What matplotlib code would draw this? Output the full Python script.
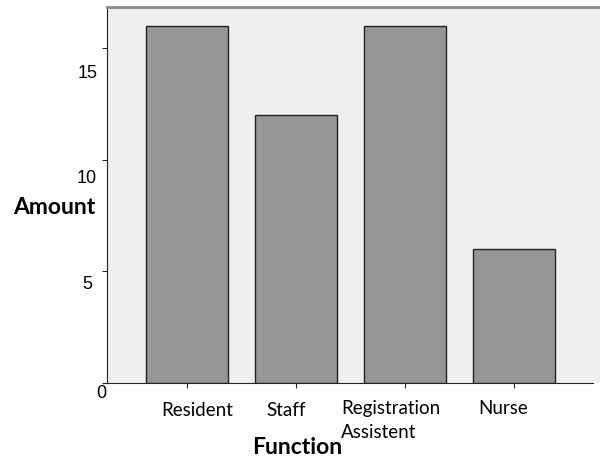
import matplotlib
matplotlib.use("Agg")
import matplotlib.pyplot as plt
from matplotlib.transforms import ScaledTranslation

categories = ["Resident", "Staff", "Registration\nAssistent", "Nurse"]
values = [16, 12, 16, 6]
yticks = [0, 5, 10, 15]
ytick_labels = ["0", "5", "10", "15"]

fig = plt.figure(figsize=(6, 4.57), dpi=100)
ax = fig.add_axes([107/600, (457-383)/457, 493/600, (383-7)/457])
ax.set_facecolor("#efefef")

x = list(range(len(categories)))
ax.bar(x, values, width=0.75, color="#969696", edgecolor="#222222", linewidth=1.0, zorder=2)

ax.set_xlim(-0.734, 3.79)
ax.set_ylim(0, 16.86)

ax.spines["right"].set_visible(False)
ax.spines["top"].set_color("#888888")
ax.spines["top"].set_linewidth(2)
ax.spines["left"].set_color("#222222")
ax.spines["bottom"].set_color("#222222")
ax.spines["bottom"].set_bounds(-0.734, 3.73)

ax.set_yticks(yticks)
ax.set_yticklabels(ytick_labels, family="Liberation Sans", fontsize=13)
ax.tick_params(axis="y", direction="out", length=3.6, pad=3.5, color="#222222")
ydx = {"0": 9, "5": -5, "10": 0, "15": 0}
ydy = {"0": -9, "5": -11, "10": -17, "15": -23}
for lab in ax.get_yticklabels():
    t = lab.get_text()
    lab.set_transform(lab.get_transform() + ScaledTranslation(ydx[t]/100, ydy[t]/100, fig.dpi_scale_trans))

ax.set_xticks(x)
ax.set_xticklabels(categories, family="Lato", fontsize=13.5, multialignment="left", linespacing=1.5)
ax.tick_params(axis="x", direction="out", length=3.6, pad=10, color="#222222")
xdx = [10, -10, -14, -11]
xdy = [0, 0, 2, 2]
for i, lab in enumerate(ax.get_xticklabels()):
    lab.set_transform(lab.get_transform() + ScaledTranslation(xdx[i]/100, xdy[i]/100, fig.dpi_scale_trans))

ax.set_ylabel("Amount", rotation=0, family="Lato", fontweight="bold", fontsize=16.5, ha="center", va="center")
ax.yaxis.set_label_coords((54-107)/493, (383-208)/376)
ax.set_xlabel("Function", family="Lato", fontweight="bold", fontsize=16.5, ha="center", va="center")
ax.xaxis.set_label_coords((297-107)/493, (383-447)/376)

fig.savefig("out.png", dpi=100)
